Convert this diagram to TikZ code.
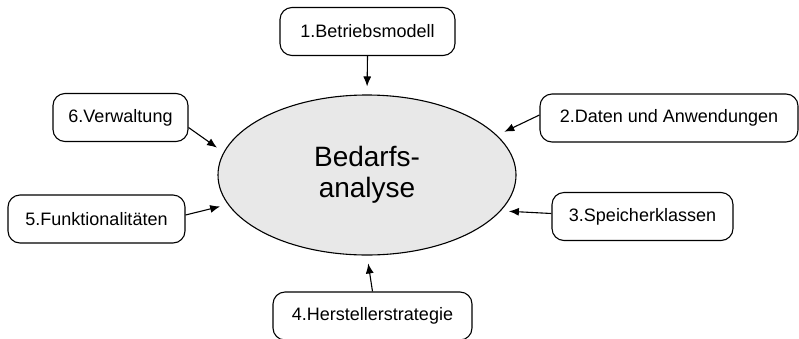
\documentclass[tikz,border=0pt]{standalone}
\usepackage{fontspec}
\setmainfont{Liberation Sans}
\usetikzlibrary{shapes.geometric,arrows.meta}

\begin{document}
\begin{tikzpicture}[x=1pt,y=-1pt,
  topic/.style={draw,rounded corners=12pt,minimum height=48pt,font=\fontsize{18}{21}\selectfont,line width=1.1pt},
  feed/.style={-{Latex[length=10pt,width=8pt]},line width=1.1pt,shorten >=8pt}]
\clip (0,0) rectangle (799,338);
\node[draw,ellipse,fill=gray!18,line width=1.1pt,minimum width=298pt,minimum height=160pt,
  align=center,font=\fontsize{28}{31}\selectfont] (ana) at (367,175) {Bedarfs-\\analyse};
\node[topic,minimum width=175pt] (b1) at (367.5,31.5) {1.Betriebsmodell};
\node[topic,minimum width=258pt] (b2) at (669,118) {2.Daten und Anwendungen};
\node[topic,minimum width=181pt] (b3) at (642.5,216.5) {3.Speicherklassen};
\node[topic,minimum width=199pt] (b4) at (372.5,316) {4.Herstellerstrategie};
\node[topic,minimum width=177pt] (b5) at (96.5,219) {5.Funktionalitäten};
\node[topic,minimum width=135pt] (b6) at (120.5,117.5) {6.Verwaltung};
\draw[feed] (b1.south) -- (ana.90);
\draw[feed] ([yshift=3pt]b2.west) -- (ana.17);
\draw[feed] ([yshift=3pt]b3.west) -- (ana.345);
\draw[feed] (b4.north) -- (ana.270);
\draw[feed] ([yshift=4pt]b5.east) -- (ana.192);
\draw[feed] ([yshift=-10pt]b6.east) -- (ana.171);
\end{tikzpicture}
\end{document}
